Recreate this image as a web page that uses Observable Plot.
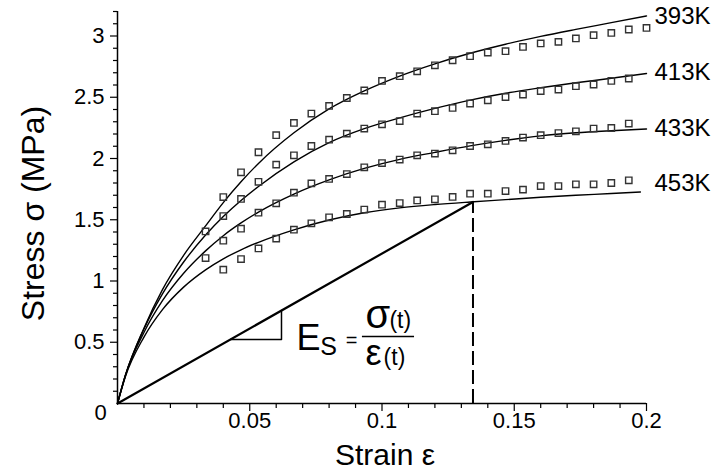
<!DOCTYPE html>
<html><head><meta charset="utf-8">
<script src="https://cdn.jsdelivr.net/npm/d3@7"></script>
<script src="https://cdn.jsdelivr.net/npm/@observablehq/plot@0.6"></script>
<style>
html,body{margin:0;padding:0;background:#fff;overflow:hidden;}
#chart svg{display:block;}
</style></head><body><div id="chart"></div>
<script>
// ---- data ----
const series = ["393K", "413K", "433K", "453K"];

// model (solid) curves
const fitStrain = [0, 0.003, 0.01, 0.017, 0.025, 0.0333, 0.04, 0.0467, 0.0533, 0.0667, 0.08, 0.0933, 0.1067, 0.12, 0.1333, 0.1467, 0.16, 0.1733, 0.1867, 0.2];
const fitStrain453 = [0, 0.003, 0.01, 0.017, 0.025, 0.0333, 0.04, 0.0467, 0.0533, 0.0667, 0.08, 0.0933, 0.1067, 0.12, 0.1333, 0.1467, 0.16, 0.1733, 0.1867, 0.1977];
const fit393 = [0, 0.23, 0.615, 0.93, 1.21, 1.45, 1.64, 1.81, 1.96, 2.21, 2.405, 2.552, 2.673, 2.773, 2.859, 2.933, 2.997, 3.054, 3.109, 3.164];
const fit413 = [0, 0.23, 0.608, 0.895, 1.155, 1.375, 1.526, 1.657, 1.772, 1.973, 2.13, 2.244, 2.332, 2.409, 2.477, 2.533, 2.578, 2.618, 2.655, 2.694];
const fit433 = [0, 0.23, 0.58, 0.839, 1.063, 1.246, 1.37, 1.474, 1.563, 1.71, 1.826, 1.919, 1.993, 2.05, 2.103, 2.148, 2.185, 2.21, 2.227, 2.241];
const fit453 = [0, 0.22, 0.542, 0.766, 0.95, 1.091, 1.181, 1.255, 1.316, 1.418, 1.498, 1.557, 1.597, 1.624, 1.645, 1.664, 1.684, 1.70, 1.714, 1.726];

// experimental points (open squares)
const markerStrain = [0.0333, 0.04, 0.0467, 0.0533, 0.06, 0.0667, 0.0733, 0.08, 0.0867, 0.0933, 0.1, 0.1067, 0.1133, 0.12, 0.1267, 0.1333, 0.14, 0.1467, 0.1533, 0.16, 0.1667, 0.1733, 0.18, 0.1867, 0.1933, 0.2];
const marker393 = [1.405, 1.685, 1.887, 2.051, 2.190, 2.290, 2.367, 2.429, 2.494, 2.555, 2.633, 2.672, 2.712, 2.761, 2.802, 2.835, 2.865, 2.876, 2.911, 2.939, 2.952, 2.980, 3.007, 3.025, 3.053, 3.066];
const marker413 = [null, 1.530, 1.670, 1.810, 1.950, 2.026, 2.102, 2.154, 2.203, 2.244, 2.279, 2.306, 2.367, 2.386, 2.413, 2.449, 2.475, 2.502, 2.522, 2.551, 2.563, 2.590, 2.604, 2.633, 2.653, null];
const marker433 = [1.187, 1.329, 1.427, 1.558, 1.634, 1.721, 1.797, 1.833, 1.873, 1.928, 1.963, 1.991, 2.026, 2.040, 2.067, 2.102, 2.116, 2.143, 2.171, 2.190, 2.208, 2.222, 2.244, 2.249, 2.285, null];
const marker453 = [null, 1.092, 1.179, 1.266, 1.346, 1.419, 1.471, 1.520, 1.547, 1.583, 1.623, 1.636, 1.658, 1.667, 1.686, 1.713, 1.713, 1.734, 1.746, 1.775, 1.775, 1.789, 1.789, 1.800, 1.822, null];

// series labels (data coords)
const labelStrain = [0.2, 0.2, 0.2, 0.2];
const labelStress = [3.16, 2.70, 2.25, 1.80];

// secant modulus construction
const secantStrain = [0, 0.1344];
const secantStress = [0, 1.645];
const triangleStrain = [0.0427, 0.062, 0.062];
const triangleStress = [0.523, 0.523, 0.759];

// formula Es = σ(t)/ε(t)
const formulaText = ["E", "S", "=", "σ", "(t)", "ε", "(t)"];
const formulaStrain = [0.0677, 0.0767, 0.0885, 0.0938, 0.1028, 0.0938, 0.1006];
const formulaStress = [0.433, 0.392, 0.4575, 0.613, 0.613, 0.312, 0.312];
const fractionStrain = [0.0926, 0.1123];
const fractionStress = [0.547];

// axes
const xMajorTicks = [0.05, 0.1, 0.15, 0.2];
const xTickLabels = ["0.05", "0.1", "0.15", "0.2"];
const xMinorTicks = [0.01, 0.02, 0.03, 0.04, 0.06, 0.07, 0.08, 0.09, 0.11, 0.12, 0.13, 0.14, 0.16, 0.17, 0.18, 0.19];
const yMajorTicks = [0.5, 1, 1.5, 2, 2.5, 3];
const yTickLabels = ["0.5", "1", "1.5", "2", "2.5", "3"];
const yMinorTicks = [0.1, 0.2, 0.3, 0.4, 0.6, 0.7, 0.8, 0.9, 1.1, 1.2, 1.3, 1.4, 1.6, 1.7, 1.8, 1.9, 2.1, 2.2, 2.3, 2.4, 2.6, 2.7, 2.8, 2.9, 3.1, 3.2];
const xTitle = "Strain ε";
const yTitle = "Stress σ (MPa)";
const originLabel = "0";

// ---- tables ----
const fitTable = [];
[fit393, fit413, fit433, fit453].forEach((vals, s) => {
  const xs = s === 3 ? fitStrain453 : fitStrain;
  vals.forEach((v, i) => fitTable.push({series: series[s], strain: xs[i], stress: v}));
});
const markerTable = [];
[marker393, marker413, marker433, marker453].forEach((vals, s) => {
  vals.forEach((v, i) => { if (v != null) markerTable.push({series: series[s], strain: markerStrain[i], stress: v}); });
});
const labelTable = series.map((s, i) => ({text: s, strain: labelStrain[i], stress: labelStress[i]}));
const secantTable = secantStrain.map((x, i) => ({strain: x, stress: secantStress[i]}));
const triangleTable = triangleStrain.map((x, i) => ({strain: x, stress: triangleStress[i]}));
const formulaTable = formulaText.map((t, i) => ({text: t, strain: formulaStrain[i], stress: formulaStress[i]}));
const xLabelMap = new Map(xMajorTicks.map((d, i) => [d, xTickLabels[i]]));
const yLabelMap = new Map(yMajorTicks.map((d, i) => [d, yTickLabels[i]]));

const font = "'Liberation Sans', Arial, Helvetica, sans-serif";
const f = (idx) => formulaTable.filter((d, i) => idx.includes(i));

const chart = Plot.plot({
  width: 717, height: 473,
  marginLeft: 117, marginRight: 71, marginTop: 11, marginBottom: 70,
  style: {fontFamily: font, fontSize: "22px", background: "white", color: "black", overflow: "visible"},
  x: {domain: [0, 0.2], axis: null},
  y: {domain: [0, 3.2], axis: null},
  marks: [
    // axes
    Plot.axisX(xMinorTicks, {tickSize: 5, text: null, label: null, strokeWidth: 1.2}),
    Plot.axisX(xMajorTicks, {tickSize: 8, tickPadding: 1, tickFormat: d => xLabelMap.get(d), label: null, fontSize: 22, strokeWidth: 1.2}),
    Plot.axisY(yMinorTicks, {tickSize: 4, text: null, label: null, strokeWidth: 1.2}),
    Plot.axisY(yMajorTicks, {tickSize: 7, tickPadding: 6, tickFormat: d => yLabelMap.get(d), label: null, fontSize: 22, strokeWidth: 1.2}),
    Plot.ruleX([0], {y1: 0, y2: 3.2, strokeWidth: 1.5}),
    Plot.ruleY([0], {x1: 0, x2: 0.2, strokeWidth: 1.5}),
    Plot.text([originLabel], {x: 0, y: 0, text: d => d, dx: -17, dy: 9, fontSize: 22}),
    Plot.text([xTitle], {frameAnchor: "bottom", text: d => d, lineAnchor: "middle", textAnchor: "middle", dx: 3, dy: 52, fontSize: 30}),
    Plot.text([yTitle], {frameAnchor: "left", text: d => d, lineAnchor: "middle", textAnchor: "middle", dx: -84, dy: 6, rotate: -90, fontSize: 32}),
    // secant construction
    Plot.line(secantTable, {x: "strain", y: "stress", stroke: "black", strokeWidth: 2.2}),
    Plot.ruleX([secantStrain[1]], {y1: 0, y2: secantStress[1], stroke: "black", strokeWidth: 2, strokeDasharray: "14,5"}),
    Plot.line(triangleTable, {x: "strain", y: "stress", stroke: "black", strokeWidth: 1.5}),
    // model curves
    Plot.line(fitTable, {x: "strain", y: "stress", z: "series", curve: "monotone-x", stroke: "black", strokeWidth: 1.4}),
    // experimental points
    Plot.dot(markerTable, {x: "strain", y: "stress", symbol: "square", r: 3.6, stroke: "#333", strokeWidth: 1.4, fill: "none"}),
    // series labels
    Plot.text(labelTable, {x: "strain", y: "stress", text: "text", textAnchor: "start", dx: 8, fontSize: 24}),
    // formula
    Plot.text(f([0]), {x: "strain", y: "stress", text: "text", textAnchor: "start", lineAnchor: "bottom", fontSize: 36}),
    Plot.text(f([1]), {x: "strain", y: "stress", text: "text", textAnchor: "start", lineAnchor: "bottom", fontSize: 25}),
    Plot.text(f([2]), {x: "strain", y: "stress", text: "text", textAnchor: "middle", lineAnchor: "bottom", fontSize: 20}),
    Plot.text(f([3]), {x: "strain", y: "stress", text: "text", textAnchor: "start", lineAnchor: "bottom", fontSize: 40}),
    Plot.text(f([5]), {x: "strain", y: "stress", text: "text", textAnchor: "start", lineAnchor: "bottom", fontSize: 36}),
    Plot.text(f([4, 6]), {x: "strain", y: "stress", text: "text", textAnchor: "start", lineAnchor: "bottom", fontSize: 23}),
    Plot.ruleY(fractionStress, {x1: fractionStrain[0], x2: fractionStrain[1], stroke: "black", strokeWidth: 1.5})
  ]
});
document.getElementById("chart").appendChild(chart);
</script>
</body></html>
